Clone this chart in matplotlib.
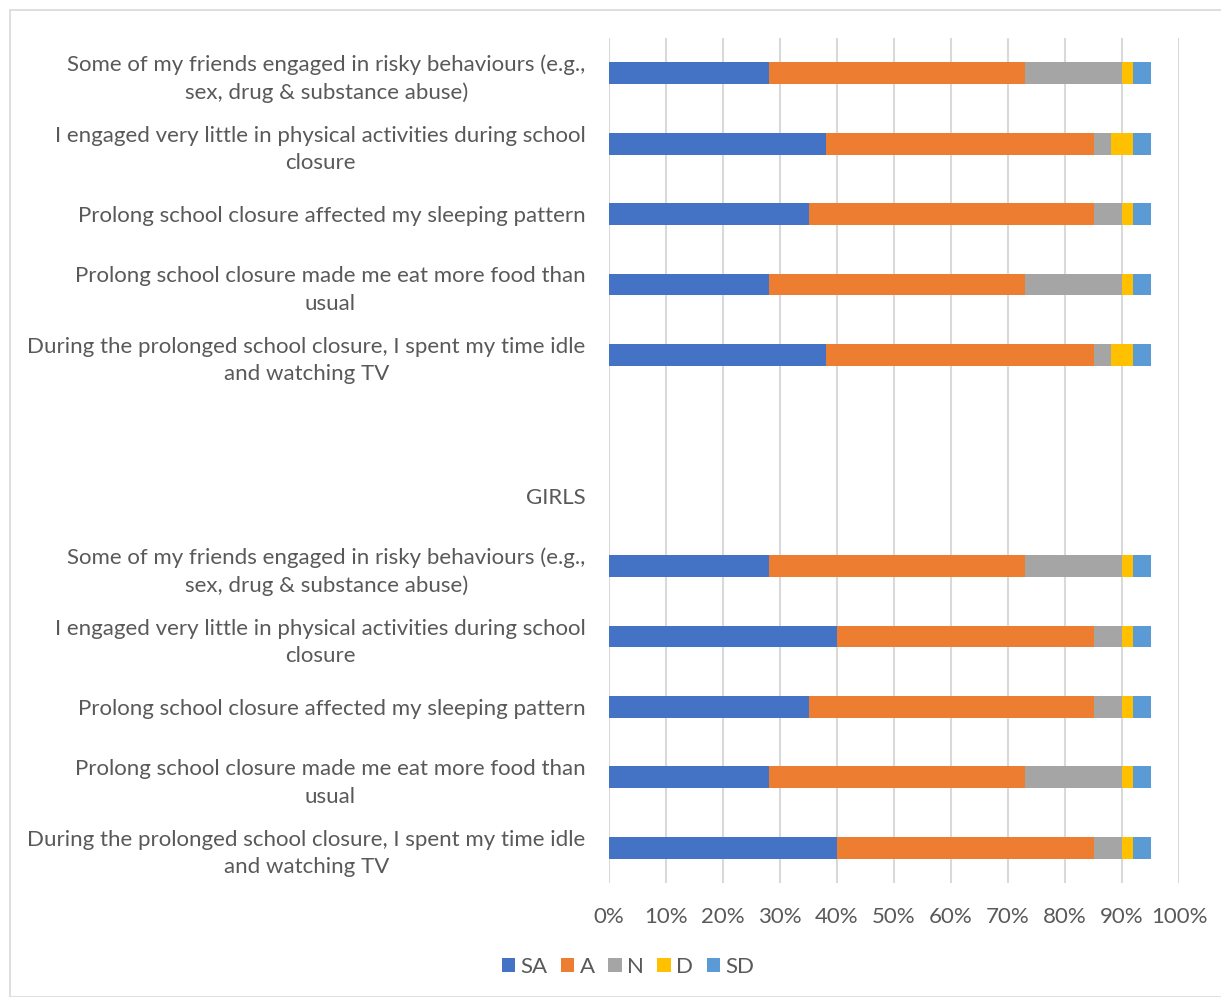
import matplotlib
matplotlib.use("Agg")
import matplotlib.pyplot as plt
from matplotlib.patches import Rectangle
import numpy as np

# Categories listed from top to bottom
categories = [
    "Some of my friends engaged in risky behaviours (e.g.,\nsex, drug & substance abuse)",
    "I engaged very little in physical activities during school\nclosure",
    "Prolong school closure affected my sleeping pattern",
    "Prolong school closure made me eat more food than\nusual",
    "During the prolonged school closure, I spent my time idle\nand watching TV",
    "",
    "GIRLS",
    "Some of my friends engaged in risky behaviours (e.g.,\nsex, drug & substance abuse)",
    "I engaged very little in physical activities during school\nclosure",
    "Prolong school closure affected my sleeping pattern",
    "Prolong school closure made me eat more food than\nusual",
    "During the prolonged school closure, I spent my time idle\nand watching TV",
]

series_names = ["SA", "A", "N", "D", "SD"]
SA = [28, 38, 35, 28, 38, 0, 0, 28, 40, 35, 28, 40]
A  = [45, 47, 50, 45, 47, 0, 0, 45, 45, 50, 45, 45]
N  = [17, 3, 5, 17, 3, 0, 0, 17, 5, 5, 17, 5]
D  = [2, 4, 2, 2, 4, 0, 0, 2, 2, 2, 2, 2]
SD = [3, 3, 3, 3, 3, 0, 0, 3, 3, 3, 3, 3]
colors = ["#4472C4", "#ED7D31", "#A5A5A5", "#FFC000", "#5B9BD5"]

tick_labels = ["0%", "10%", "20%", "30%", "40%", "50%", "60%", "70%", "80%", "90%", "100%"]

W, H = 1221, 997
fig = plt.figure(figsize=(W / 100, H / 100), dpi=100)
fig.patch.set_facecolor("white")

# outer chart border
fig.patches.append(Rectangle((10 / W, 0), 1.0, 1 - 10 / H, transform=fig.transFigure,
                             fill=False, edgecolor="#D9D9D9", linewidth=1.2))

left, right, top, bottom = 609, 1179, 38, 883
ax = fig.add_axes([left / W, 1 - bottom / H, (right - left) / W, (bottom - top) / H])

n = len(categories)
y = np.arange(n)
data = [SA, A, N, D, SD]
cum = np.zeros(n)
for name, vals, c in zip(series_names, data, colors):
    vals = np.array(vals, dtype=float)
    ax.barh(y, vals, left=cum, height=0.31, color=c, label=name,
            linewidth=0, zorder=3)
    cum += vals

ax.set_ylim(n - 0.5, -0.5)
ax.set_xlim(0, 100)
ax.set_xticks(np.arange(0, 101, 10))
ax.set_xticklabels(tick_labels)
ax.set_yticks(y)
ax.set_yticklabels(categories, fontfamily="Lato", fontsize=16, color="#595959",
                   multialignment="center", linespacing=1.45)
ax.tick_params(axis="y", length=0, pad=17)
ax.tick_params(axis="x", length=0, pad=17, labelsize=16, labelcolor="#595959")
for lbl in ax.get_xticklabels():
    lbl.set_fontfamily("Lato")

ax.grid(axis="x", color="#D9D9D9", linewidth=1.5, zorder=0)
for s in ax.spines.values():
    s.set_visible(False)

handles, labels = ax.get_legend_handles_labels()
leg = fig.legend(handles, labels, loc="center", bbox_to_anchor=(628 / W, 1 - 967 / H),
                 ncol=5, frameon=False, handlelength=0.6, handleheight=0.6,
                 handletextpad=0.25, columnspacing=0.6,
                 prop={"family": "Lato", "size": 16})
for t in leg.get_texts():
    t.set_color("#595959")

fig.savefig("out.png", dpi=100, facecolor="white")
